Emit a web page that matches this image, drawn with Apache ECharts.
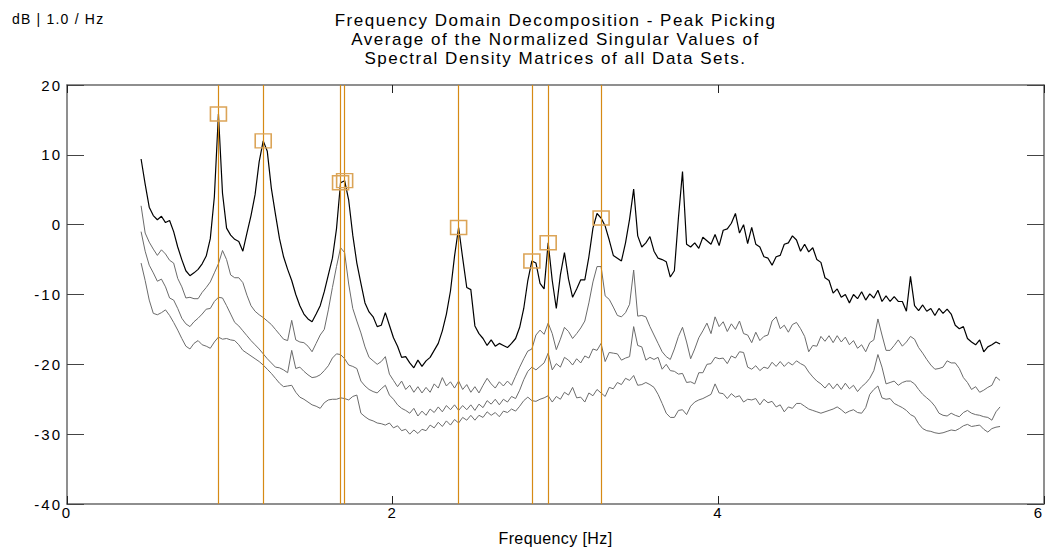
<!DOCTYPE html>
<html>
<head>
<meta charset="utf-8">
<title>Frequency Domain Decomposition - Peak Picking</title>
<script src="https://cdn.jsdelivr.net/npm/echarts@6/dist/echarts.min.js"></script>
<style>
  html, body { margin: 0; padding: 0; background: #ffffff; }
  #chart { width: 1045px; height: 548px; }
</style>
</head>
<body>
<div id="chart"></div>
<script>
// Frequency sampling of the spectra (Hz): first line and line spacing
const freqStart = 0.455;
const freqStep = 0.025;

// Singular value 1 (dB), averaged and normalized over all data sets
const sv1 = [
  9.4, 5.8, 2.5, 1.3, 0.7, 1.2, 0.3, 0.6, -1.0, -3.2,
  -5.0, -6.6, -7.3, -6.9, -6.4, -5.6, -4.5, -2.0, 4.0, 15.85,
  4.5, -0.5, -1.5, -2.1, -2.4, -3.8, -1.2, 1.3, 4.3, 9.0,
  12.0, 10.5, 5.2, 1.5, -2.0, -4.6, -6.4, -8.0, -10.0, -11.6,
  -12.8, -13.5, -13.9, -12.8, -11.6, -9.6, -7.2, -4.8, -0.6, 6.0,
  6.3, 3.5, -1.5, -5.5, -8.4, -11.2, -12.5, -13.2, -14.6, -14.4,
  -12.6, -14.4, -16.2, -17.4, -19.0, -18.9, -19.8, -20.5, -19.4, -20.3,
  -19.5, -19.0, -18.0, -17.0, -15.2, -12.8, -9.5, -4.5, -0.4, -4.8,
  -9.0, -9.3, -14.5, -15.6, -16.3, -17.3, -16.5, -17.4, -17.0, -17.3,
  -17.6, -17.0, -16.3, -14.7, -12.0, -8.0, -5.2, -5.5, -8.4, -9.2,
  -2.6, -8.0, -12.0, -7.2, -4.0, -7.8, -10.4, -9.2, -7.9, -7.9,
  -4.6, -0.5, 1.6, 0.95, -0.2, -2.2, -4.4, -4.8, -5.2, -2.6,
  0.8, 5.1, -1.6, -3.2, -2.6, -1.7, -3.8, -4.8, -5.0, -5.3,
  -7.5, -6.6, 1.0, 7.6, -2.8, -3.2, -2.6, -3.4, -1.8, -2.3,
  -2.8, -1.4, -3.0, -0.8, -0.6, 0.2, 1.6, -1.2, 0.0, -2.7,
  -0.4, -2.8, -3.2, -4.6, -4.8, -5.8, -4.6, -4.4, -2.8, -2.6,
  -1.6, -2.2, -3.8, -2.8, -3.9, -3.3, -5.0, -5.4, -7.6, -8.0,
  -9.8, -9.2, -10.4, -10.0, -11.2, -10.0, -10.6, -9.6, -10.8, -9.9,
  -10.5, -9.4, -11.0, -10.2, -11.0, -10.3, -11.0, -11.0, -12.4, -7.4,
  -11.6, -12.3, -11.5, -12.4, -12.0, -13.0, -12.0, -12.7, -12.1, -12.8,
  -14.4, -14.9, -14.6, -16.3, -16.8, -17.2, -16.5, -18.2, -17.5, -17.2,
  -16.8, -17.1
];

// Singular value 2 (dB)
const sv2 = [
  2.7, -1.2, -2.5, -3.5, -4.4, -3.6, -4.2, -5.1, -5.5, -7.7,
  -8.9, -10.5, -10.4, -10.6, -10.6, -9.7, -9.0, -8.2, -6.9, -5.6,
  -3.7, -5.0, -7.2, -7.6, -7.6, -8.3, -10.1, -11.6, -12.4, -12.9,
  -13.3, -13.8, -14.3, -15.0, -15.7, -16.4, -16.6, -13.7, -16.5, -16.8,
  -16.9, -17.4, -18.2, -17.0, -15.8, -15.0, -12.2, -9.0, -6.0, -3.3,
  -4.0, -8.5, -12.0, -13.8, -15.5, -17.5, -19.0, -19.5, -20.0, -19.6,
  -18.9, -21.4, -22.3, -23.2, -22.4, -23.6, -23.0, -24.0, -23.2, -24.1,
  -23.3, -24.0, -22.8, -23.4, -21.9, -23.1, -22.5, -23.4, -22.4, -23.6,
  -22.9, -24.0, -23.2, -24.1, -23.0, -22.0, -22.8, -23.4, -22.5, -23.1,
  -22.4, -23.0, -21.7, -20.4, -19.2, -18.1, -17.8, -15.8, -15.1, -15.7,
  -14.1, -15.6, -17.9, -16.4, -14.7, -15.3, -16.3, -15.6, -14.8, -13.8,
  -11.2, -8.2, -6.0, -6.0, -10.2, -10.7, -11.8, -13.0, -13.2, -12.6,
  -11.4, -6.5, -13.1, -13.0, -13.2, -14.6, -15.8, -17.0, -18.2, -18.9,
  -19.3, -17.8, -16.0, -14.7, -16.8, -19.2, -17.8, -16.2, -15.2, -14.1,
  -15.6, -13.2, -14.6, -13.9, -15.3, -14.2, -15.0, -13.8, -15.6, -15.8,
  -16.9, -15.4, -16.6, -16.0, -15.8, -13.8, -13.2, -14.9, -14.4, -15.4,
  -14.3, -14.0, -14.9, -16.0, -18.2, -17.3, -17.4, -16.0, -16.7, -15.9,
  -16.9, -15.9, -16.8, -16.1, -17.2, -16.6, -17.7, -17.2, -18.2, -16.9,
  -16.5, -13.5, -15.8, -18.0, -18.0, -17.3, -16.5, -17.4, -16.8, -16.0,
  -16.4, -17.6, -18.4, -19.3, -20.1, -20.7, -20.6, -20.4, -19.5, -19.8,
  -19.8, -20.6, -21.9, -22.6, -23.6, -23.2, -24.0, -23.7, -23.3, -23.0,
  -21.8, -22.3
];

// Singular value 3 (dB)
const sv3 = [
  -1.0, -3.8, -5.8, -6.9, -8.1, -7.8, -8.9, -10.5, -10.8, -12.0,
  -13.4, -14.2, -14.6, -13.9, -13.4, -12.8, -12.1, -12.0, -11.0, -10.4,
  -10.5, -11.6, -12.8, -14.0, -14.5, -15.2, -15.9, -16.6, -17.2, -17.8,
  -18.5, -19.2, -19.8, -20.4, -20.5, -20.8, -21.2, -18.0, -20.6, -20.4,
  -21.0, -21.5, -21.9, -21.8, -21.5, -20.9, -20.2, -19.1, -18.5, -18.6,
  -19.2, -20.1, -20.3, -20.6, -22.4, -23.1, -23.6, -23.9, -24.1, -23.5,
  -23.0, -24.4, -25.0, -25.8, -26.3, -26.6, -27.0, -26.3, -27.4, -26.7,
  -27.3, -26.4, -26.9, -26.1, -26.8, -25.9, -26.5, -25.8, -26.6, -25.9,
  -26.5, -25.8, -26.6, -25.7, -26.2, -25.2, -25.7, -25.0, -25.8, -25.0,
  -25.4, -24.6, -24.9, -23.7, -22.2, -21.0, -20.4, -20.8, -20.3, -19.8,
  -18.4, -20.8, -19.9, -20.4, -19.0, -19.4, -20.1, -19.2, -19.8, -18.8,
  -19.1, -17.8, -18.0, -17.0, -19.6, -18.3, -18.4, -18.5, -19.4, -19.1,
  -18.9, -14.6, -17.3, -17.5, -19.4, -19.0, -19.3, -19.0, -20.7, -20.0,
  -20.9, -21.0, -21.4, -21.3, -22.6, -22.5, -22.8, -21.2, -21.2, -20.0,
  -19.9, -19.0, -19.2, -19.1, -19.9, -18.8, -19.1, -18.2, -18.3, -20.4,
  -20.7, -20.2, -20.9, -20.4, -20.6, -19.7, -20.3, -19.6, -20.3, -19.7,
  -20.1, -19.5, -19.9, -20.2, -21.1, -21.8, -22.4, -22.8, -23.4, -22.7,
  -23.5, -22.8, -23.6, -22.7, -23.5, -23.0, -23.9, -23.2, -22.7, -22.0,
  -20.9, -18.6, -20.4, -22.8, -22.6, -22.4, -23.0, -22.6, -22.4, -22.4,
  -22.8, -23.6, -24.3, -24.8, -25.3, -26.0, -27.0, -27.3, -27.4, -27.0,
  -27.3, -27.5, -26.9, -26.6, -27.0, -27.2, -27.3, -27.5, -27.6, -28.0,
  -26.8, -26.1
];

// Singular value 4 (dB)
const sv4 = [
  -5.5, -8.0, -10.8, -12.7, -12.9, -12.6, -12.2, -13.0, -14.0, -15.1,
  -16.3, -17.4, -17.8, -17.0, -16.6, -17.2, -17.4, -17.7, -16.8, -16.1,
  -16.4, -16.3, -16.5, -16.6, -17.2, -18.0, -18.4, -18.8, -19.2, -19.6,
  -20.1, -20.7, -21.3, -22.0, -22.7, -23.2, -23.1, -23.0, -24.0, -24.7,
  -25.0, -25.4, -25.8, -26.0, -26.3, -25.5, -25.1, -25.0, -25.0, -24.8,
  -24.9, -25.1, -24.6, -24.4, -27.0, -27.5, -27.9, -28.1, -28.4, -28.5,
  -28.7, -28.4, -29.1, -28.8, -29.5, -29.3, -30.0, -29.4, -29.9, -29.3,
  -29.5, -28.7, -29.1, -28.3, -28.9, -28.1, -28.7, -27.9, -28.4, -27.6,
  -28.0, -27.3, -28.0, -27.3, -27.6, -26.8, -27.3, -26.9, -27.5, -26.7,
  -26.9, -26.4, -26.7, -26.0, -25.2, -24.7, -25.2, -25.3, -25.0, -24.8,
  -24.5, -25.4, -24.6, -25.0, -24.0, -24.4, -23.3, -24.8, -24.7, -25.4,
  -24.1, -24.5, -23.6, -24.1, -24.6, -23.3, -23.5, -22.6, -22.9, -22.0,
  -22.3, -21.6, -23.0, -22.9, -22.6, -22.9, -23.3, -24.3, -25.6, -27.0,
  -27.6, -27.6, -26.6, -26.5, -27.2, -26.0, -25.4, -25.1, -24.9, -24.6,
  -24.3, -22.8, -24.1, -24.2, -24.9, -24.2, -24.7, -24.5, -25.4, -25.0,
  -25.1, -24.9, -25.8, -25.0, -25.5, -25.3, -26.1, -25.8, -26.8, -26.1,
  -26.3, -25.6, -25.6, -26.0, -26.4, -26.6, -26.8, -27.0, -26.8, -26.6,
  -26.4, -26.1, -26.5, -27.0, -26.7, -26.5, -26.9, -27.0, -26.2, -24.3,
  -23.6, -23.1, -24.8, -25.0, -24.9, -25.6, -25.9, -26.2, -26.6, -27.2,
  -27.5, -28.5, -29.2, -29.5, -29.6, -29.8, -29.9, -29.8, -29.6, -29.4,
  -29.5, -29.2, -28.8, -28.6, -28.9, -28.8, -28.7, -29.3, -29.7, -29.2,
  -29.0, -28.9
];

// Picked peaks: frequency (Hz) and level (dB)
const peakFreqs = [0.93, 1.205, 1.68, 1.705, 2.405, 2.855, 2.955, 3.28];
const peakValues = [15.85, 12.0, 6.0, 6.3, -0.4, -5.2, -2.6, 0.95];

// Axis ranges and text
const xMin = 0, xMax = 6, xInterval = 2;
const yMin = -40, yMax = 20, yInterval = 10;
const titleLines = [
  'Frequency Domain Decomposition - Peak Picking',
  'Average of the Normalized Singular Values of',
  'Spectral Density Matrices of all Data Sets.'
];
const xAxisName = 'Frequency [Hz]';
const yUnit = 'dB | 1.0 / Hz';

const FONT = '"Liberation Sans", Arial, Helvetica, sans-serif';
const PEAK_LINE = '#d68a14';
const PEAK_BOX = '#dba457';
const GREY = '#6b6b6b';

// Grid box (px) shared by the plot and the centred title
const GRID_LEFT = 67, GRID_RIGHT = 1, GRID_TOP = 85, GRID_BOTTOM = 44;
const CHART_W = 1045;

// Extra tracking per font size (px), applied to the SVG text nodes
const TRACKING = { 17: 1.5, 16: 0.4, 15: 2, 14: 1.2 };

function toPoints(values) {
  return values.map((v, i) => [freqStart + i * freqStep, v]);
}

const axisLine = { show: true, onZero: false, lineStyle: { color: '#6a6a6a', width: 1.5 } };

const chart = echarts.init(document.getElementById('chart'), null, { renderer: 'svg' });

chart.setOption({
  animation: false,
  backgroundColor: '#ffffff',
  graphic: [{
    type: 'text',
    left: 12,
    top: 12,
    style: { text: yUnit, font: '14px ' + FONT, fill: '#000' }
  }, {
    // title centred over the plot area
    type: 'text',
    x: GRID_LEFT + (CHART_W - GRID_LEFT - GRID_RIGHT) / 2,
    y: 11,
    style: {
      text: titleLines.join('\n'),
      font: '17px ' + FONT,
      fill: '#000',
      align: 'center',
      verticalAlign: 'top',
      lineHeight: 19
    }
  }],
  grid: {
    left: GRID_LEFT, right: GRID_RIGHT, top: GRID_TOP, bottom: GRID_BOTTOM,
    containLabel: false, outerBoundsMode: 'none'
  },
  xAxis: [{
    type: 'value', position: 'bottom', min: xMin, max: xMax, interval: xInterval,
    axisLine: axisLine,
    axisTick: { show: true, inside: true, length: 8, lineStyle: { color: '#222', width: 1 } },
    axisLabel: {
      show: true, margin: 1, fontFamily: FONT, fontSize: 15, color: '#000',
      alignMaxLabel: 'right'
    },
    splitLine: { show: false },
    name: xAxisName, nameLocation: 'middle', nameGap: 26,
    nameTextStyle: { fontFamily: FONT, fontSize: 16, color: '#000' }
  }, {
    type: 'value', position: 'top', min: xMin, max: xMax, interval: xInterval,
    axisLine: axisLine,
    axisTick: { show: true, inside: true, length: 8, lineStyle: { color: '#222', width: 1 } },
    axisLabel: { show: false },
    splitLine: { show: false }
  }],
  yAxis: [{
    type: 'value', position: 'left', min: yMin, max: yMax, interval: yInterval,
    axisLine: axisLine,
    axisTick: { show: true, inside: true, length: 17, lineStyle: { color: '#444', width: 1 } },
    axisLabel: { show: true, margin: 5, fontFamily: FONT, fontSize: 15, color: '#000' },
    splitLine: { show: false }
  }, {
    type: 'value', position: 'right', min: yMin, max: yMax, interval: yInterval,
    axisLine: axisLine,
    axisTick: { show: true, inside: true, length: 17, lineStyle: { color: '#444', width: 1 } },
    axisLabel: { show: false },
    splitLine: { show: false }
  }],
  series: [
    { type: 'line', data: toPoints(sv4), symbol: 'none', lineStyle: { color: GREY, width: 1 }, z: 2 },
    { type: 'line', data: toPoints(sv3), symbol: 'none', lineStyle: { color: GREY, width: 1 }, z: 2 },
    { type: 'line', data: toPoints(sv2), symbol: 'none', lineStyle: { color: GREY, width: 1 }, z: 2 },
    { type: 'line', data: toPoints(sv1), symbol: 'none', lineStyle: { color: '#000000', width: 1.2 }, z: 3 },
    {
      // vertical cursor at each picked frequency, spanning the full level range
      type: 'lines',
      coordinateSystem: 'cartesian2d',
      silent: true,
      z: 4,
      lineStyle: { color: PEAK_LINE, width: 1.2, opacity: 1, curveness: 0 },
      data: peakFreqs.map(f => ({ coords: [[f, yMin], [f, yMax]] }))
    },
    {
      type: 'scatter',
      data: peakFreqs.map((f, i) => [f, peakValues[i]]),
      symbol: 'rect',
      symbolSize: [16, 14],
      itemStyle: { color: 'rgba(255,255,255,0)', borderColor: PEAK_BOX, borderWidth: 1.5, opacity: 1 },
      z: 5,
      silent: true
    }
  ]
});

function applyTracking() {
  document.querySelectorAll('#chart svg text').forEach(t => {
    const size = Math.round(parseFloat(getComputedStyle(t).fontSize));
    if (TRACKING[size] != null) t.setAttribute('letter-spacing', TRACKING[size] + 'px');
  });
}
applyTracking();
chart.on('finished', applyTracking);
</script>
</body>
</html>
